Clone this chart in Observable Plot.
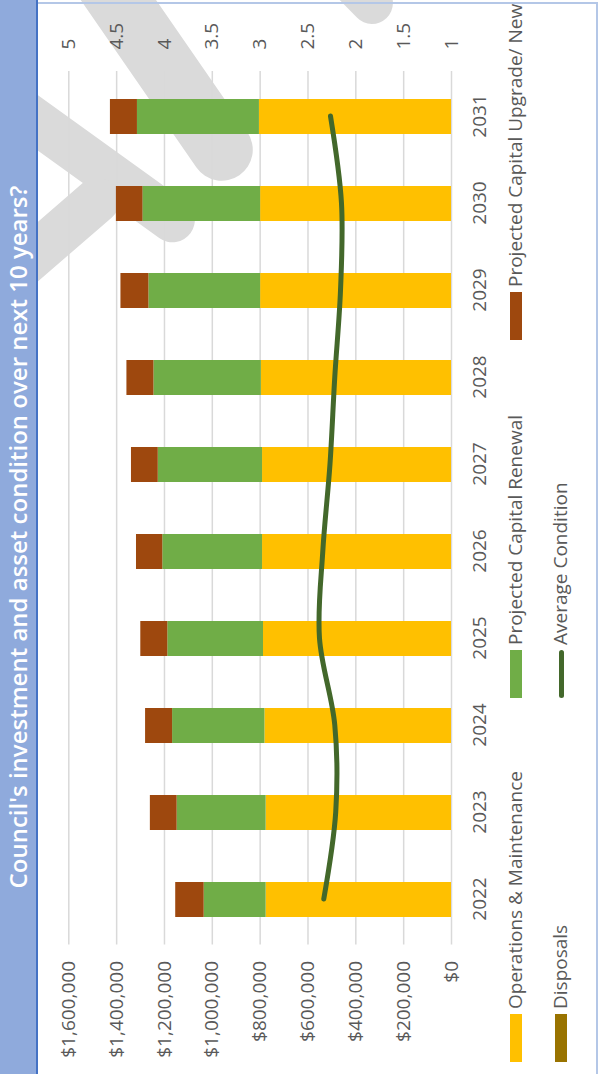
<!DOCTYPE html>
<html>
<head>
<meta charset="utf-8">
<script src="https://cdn.jsdelivr.net/npm/d3@7"></script>
<script src="https://cdn.jsdelivr.net/npm/@observablehq/plot@0.6"></script>
<style>
  html, body { margin: 0; padding: 0; background: #ffffff; }
  body { width: 603px; height: 1074px; overflow: hidden; position: relative; font-family: "Open Sans", sans-serif; }
  .wm { position: absolute; background: #dadada; transform-origin: 0 50%; z-index: 0; }
  #chart { position: absolute; left: 0; top: 0; width: 1074px; height: 603px;
           transform-origin: 0 0; transform: translate(0px, 1074px) rotate(-90deg); z-index: 1; }
  #titleband { position: absolute; left: 0; top: 0; width: 1074px; height: 36px; background: #8faadc;
               border-bottom: 2px solid #4472c4; }
  #titletext { position: absolute; left: 0; top: 5px; width: 1074px; text-align: center; color: #ffffff;
               font-size: 24px; font-weight: 600; line-height: 26px; white-space: nowrap; }
  #plot { position: absolute; left: 0; top: 0; }
  .leg { position: absolute; font-size: 19px; color: #595959; white-space: nowrap; line-height: 1; }
  .sw { position: absolute; height: 12px; width: 48px; }
</style>
</head>
<body>
<div id="wmarks"></div>
<div id="chart">
  <div id="plot"></div>
  <div id="titleband"></div>
  <div id="titletext"></div>
  <div style="position:absolute;left:1070px;top:38px;width:2px;height:560px;background:#b4c7e7;"></div>
  <div style="position:absolute;left:0;top:596px;width:1072px;height:2px;background:#b4c7e7;"></div>
  <div id="legend"></div>
</div>
<script>
const title = "Council's investment and asset condition over next 10 years?";
const years = [2022, 2023, 2024, 2025, 2026, 2027, 2028, 2029, 2030, 2031];
const seriesNames = ["Operations & Maintenance", "Projected Capital Renewal", "Projected Capital Upgrade/ New", "Disposals"];
const seriesColors = ["#ffc000", "#70ad47", "#9e480e", "#997300"];
const opsMaintenance = [775000, 775000, 780000, 786000, 790000, 790000, 795000, 798000, 798000, 803000];
const capitalRenewal = [259000, 372000, 386000, 400000, 417000, 436000, 449000, 467000, 492000, 510000];
const capitalUpgrade = [119000, 112000, 113000, 113000, 110000, 112000, 113000, 117000, 111000, 113000];
const disposals = [0, 0, 0, 0, 0, 0, 0, 0, 0, 0];
const lineName = "Average Condition";
const lineColor = "#43682b";
const averageCondition = [2.335, 2.21, 2.22, 2.38, 2.345, 2.27, 2.22, 2.16, 2.15, 2.265];
const dollarTicks = [0, 200000, 400000, 600000, 800000, 1000000, 1200000, 1400000, 1600000];
const conditionTicks = [1, 1.5, 2, 2.5, 3, 3.5, 4, 4.5, 5];

// secondary axis (1..5) shares the primary range (0..1.6M)
const dollarMax = dollarTicks[dollarTicks.length - 1];
const condMin = conditionTicks[0], condMax = conditionTicks[conditionTicks.length - 1];
const condToDollar = c => (c - condMin) * dollarMax / (condMax - condMin);
const dollarToCond = d => condMin + d * (condMax - condMin) / dollarMax;

const seriesValues = [opsMaintenance, capitalRenewal, capitalUpgrade, disposals];
const barData = [];
years.forEach((y, i) => {
  seriesNames.forEach((s, k) => barData.push({year: y, series: s, value: seriesValues[k][i]}));
});
const lineData = years.map((y, i) => ({year: y, cond: averageCondition[i]}));

document.getElementById("titletext").textContent = title;

const chart = Plot.plot({
  width: 1074,
  height: 603,
  marginLeft: 129.5,
  marginRight: 71,
  marginTop: 68.3,
  marginBottom: 152,
  style: {background: "transparent", fontFamily: "'Open Sans', sans-serif", fontSize: "19px", color: "#595959", overflow: "visible"},
  x: {domain: years, paddingInner: 0.6, paddingOuter: 0.3, axis: null, label: null},
  y: {domain: [0, dollarMax], axis: null, label: null},
  color: {domain: seriesNames, range: seriesColors},
  marks: [
    Plot.ruleY(dollarTicks, {stroke: "#d9d9d9", strokeWidth: 1.5}),
    Plot.barY(barData, {x: "year", y: "value", fill: "series"}),
    Plot.line(lineData, {x: "year", y: d => condToDollar(d.cond), curve: "catmull-rom",
      stroke: lineColor, strokeWidth: 5, strokeLinecap: "round", strokeLinejoin: "round"}),
    Plot.axisY({ticks: dollarTicks, tickSize: 0, tickPadding: 17, label: null,
      tickFormat: d => "$" + d3.format(",")(d), fill: "#595959"}),
    Plot.axisY({anchor: "right", ticks: conditionTicks.map(condToDollar), tickSize: 0, tickPadding: 21, label: null,
      tickFormat: d => String(+dollarToCond(d).toFixed(1)), fill: "#595959"}),
    Plot.axisX({tickSize: 0, tickPadding: 21, label: null, tickFormat: d => String(d), fill: "#595959"})
  ]
});
document.getElementById("plot").appendChild(chart);

// legend
const legend = document.getElementById("legend");
const legendItems = [
  {name: seriesNames[0], color: seriesColors[0], kind: "box", col: 12, row: 516},
  {name: seriesNames[1], color: seriesColors[1], kind: "box", col: 376, row: 516},
  {name: seriesNames[2], color: seriesColors[2], kind: "box", col: 734, row: 516},
  {name: seriesNames[3], color: seriesColors[3], kind: "box", col: 12, row: 561},
  {name: lineName, color: lineColor, kind: "line", col: 376, row: 561}
];
legendItems.forEach(it => {
  const sw = document.createElement("div");
  sw.className = "sw";
  sw.style.left = it.col + "px";
  if (it.kind === "box") {
    sw.style.top = (it.row - 6) + "px";
    sw.style.background = it.color;
  } else {
    sw.style.top = (it.row - 2.5) + "px";
    sw.style.height = "5px";
    sw.style.borderRadius = "3px";
    sw.style.background = it.color;
  }
  legend.appendChild(sw);
  const tx = document.createElement("div");
  tx.className = "leg";
  tx.style.left = (it.col + 53) + "px";
  tx.style.top = (it.row - 10) + "px";
  tx.textContent = it.name;
  legend.appendChild(tx);
});

// watermark (page coordinates)
const wmBands = [
  {p0: [70, -70], p1: [222, 150], t: 62},
  {p0: [0, 95], p1: [172, 219], t: 45},
  {p0: [0, 284], p1: [97, 200], t: 45},
  {p0: [330, -40], p1: [372, 3], t: 42}
];
const wm = document.getElementById("wmarks");
wmBands.forEach(b => {
  const dx = b.p1[0] - b.p0[0], dy = b.p1[1] - b.p0[1];
  const len = Math.hypot(dx, dy), ang = Math.atan2(dy, dx) * 180 / Math.PI;
  const el = document.createElement("div");
  el.className = "wm";
  el.style.left = b.p0[0] + "px";
  el.style.top = (b.p0[1] - b.t / 2) + "px";
  el.style.width = (len + b.t / 2) + "px";
  el.style.height = b.t + "px";
  el.style.borderRadius = (b.t / 2) + "px";
  el.style.transform = `rotate(${ang}deg)`;
  wm.appendChild(el);
});
</script>
</body>
</html>
